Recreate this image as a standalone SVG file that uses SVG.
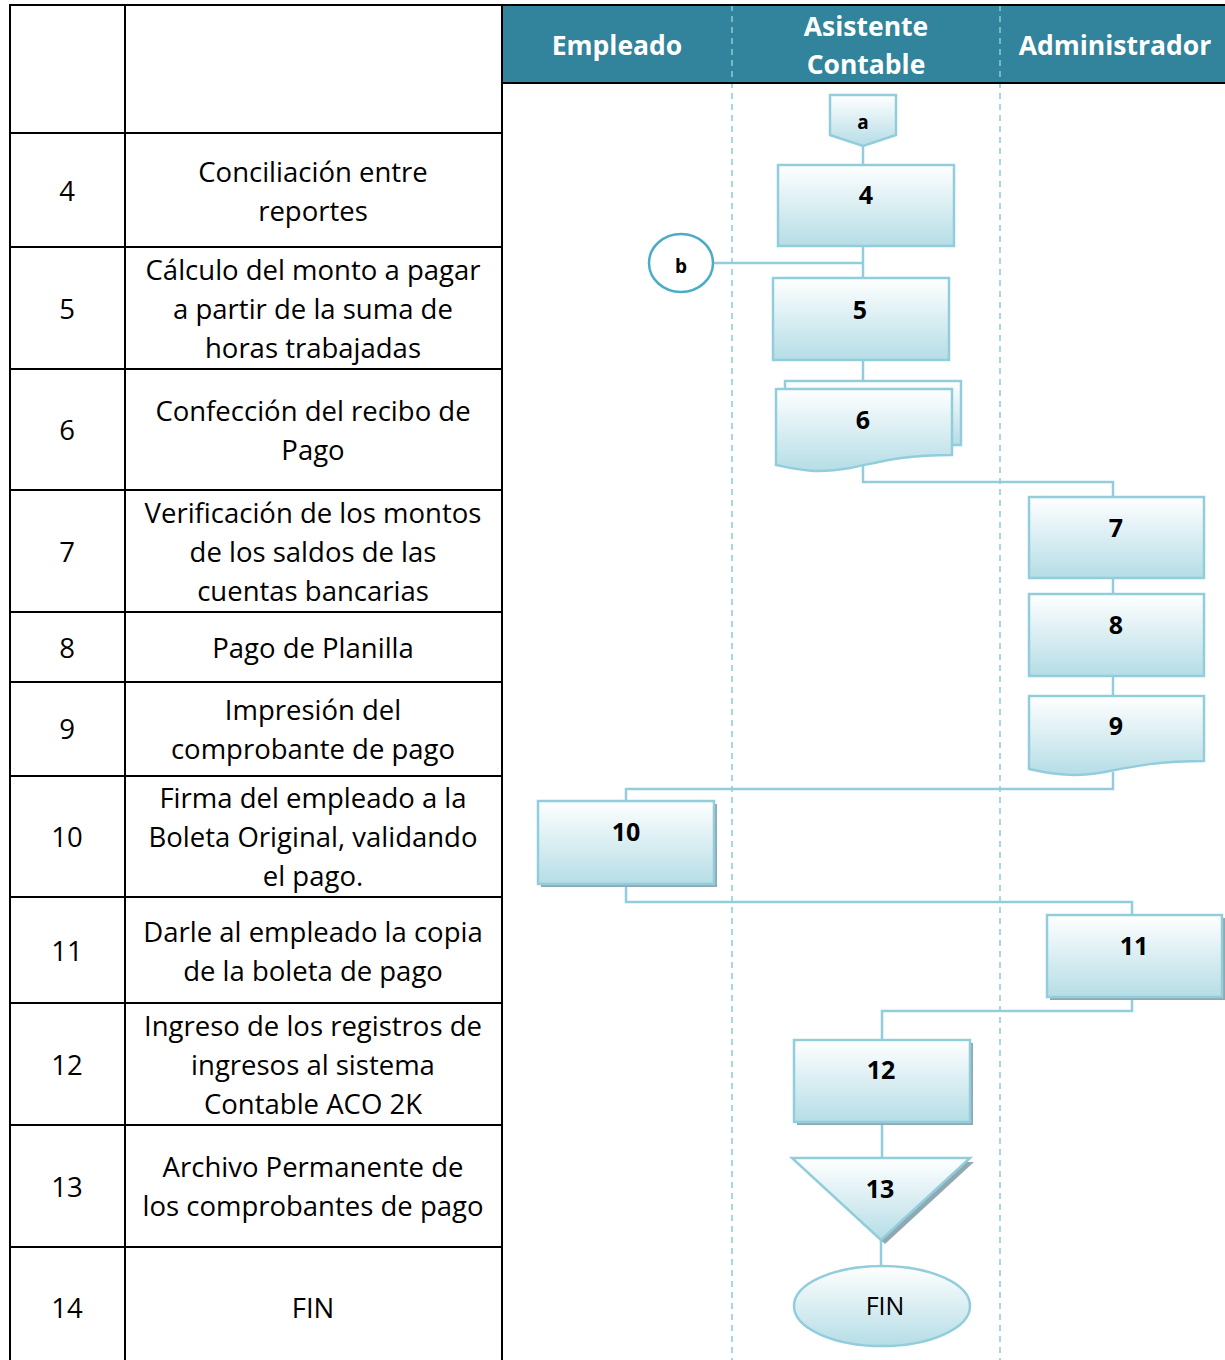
<svg xmlns="http://www.w3.org/2000/svg" width="1225" height="1360" viewBox="0 0 1225 1360">
<defs>
<linearGradient id="g" x1="0" y1="0" x2="0" y2="1">
<stop offset="0" stop-color="#ffffff"/>
<stop offset="1" stop-color="#b5dde6"/>
</linearGradient>
<style>
.cell{font-family:"Open Sans","Liberation Sans",sans-serif;font-size:27.5px;fill:#000;text-anchor:middle;dominant-baseline:central}
.hdr{font-family:"Open Sans","Liberation Sans",sans-serif;font-size:26.5px;font-weight:bold;fill:#fff;text-anchor:middle;dominant-baseline:central}
.lbl{font-family:"Open Sans","Liberation Sans",sans-serif;font-size:25px;font-weight:bold;fill:#000;text-anchor:middle;dominant-baseline:central}
.tl{stroke:#000;stroke-width:2;fill:none}
.lane{stroke:#8ccbd8;stroke-width:1.5;stroke-dasharray:6,5;fill:none}
.shape{fill:url(#g);stroke:#92cddc;stroke-width:2.5}
.shadow{fill:#8fa8b1}
.conn{stroke:#92cddc;stroke-width:2.5;fill:none}
</style>
</defs>
<rect x="0" y="0" width="1225" height="1360" fill="#fff"/>
<!-- header -->
<rect x="502" y="5" width="723" height="78" fill="#31849b"/>
<g id="lanes">
<line class="lane" x1="732" y1="5" x2="732" y2="1360"/>
<line class="lane" x1="1000" y1="5" x2="1000" y2="1360"/>
</g>
<line class="tl" x1="502" y1="83" x2="1225" y2="83"/>
<line class="tl" x1="502" y1="5" x2="1225" y2="5"/>
<text class="hdr" x="617" y="45">Empleado</text>
<text class="hdr" x="866" y="26">Asistente</text>
<text class="hdr" x="866" y="64">Contable</text>
<text class="hdr" x="1115" y="45">Administrador</text>
<!-- table -->
<g id="table">
<rect class="tl" x="10" y="5" width="492" height="1360"/>
<line class="tl" x1="125" y1="5" x2="125" y2="1360"/>
<line class="tl" x1="10" y1="133" x2="502" y2="133"/>
<line class="tl" x1="10" y1="247" x2="502" y2="247"/>
<line class="tl" x1="10" y1="369" x2="502" y2="369"/>
<line class="tl" x1="10" y1="490" x2="502" y2="490"/>
<line class="tl" x1="10" y1="612" x2="502" y2="612"/>
<line class="tl" x1="10" y1="682" x2="502" y2="682"/>
<line class="tl" x1="10" y1="776" x2="502" y2="776"/>
<line class="tl" x1="10" y1="897" x2="502" y2="897"/>
<line class="tl" x1="10" y1="1003" x2="502" y2="1003"/>
<line class="tl" x1="10" y1="1125" x2="502" y2="1125"/>
<line class="tl" x1="10" y1="1247" x2="502" y2="1247"/>
<text class="cell" x="67" y="190">4</text>
<text class="cell" x="313" y="171">Conciliación entre</text>
<text class="cell" x="313" y="210">reportes</text>
<text class="cell" x="67" y="308">5</text>
<text class="cell" x="313" y="269">Cálculo del monto a pagar</text>
<text class="cell" x="313" y="308">a partir de la suma de</text>
<text class="cell" x="313" y="347">horas trabajadas</text>
<text class="cell" x="67" y="429">6</text>
<text class="cell" x="313" y="410">Confección del recibo de</text>
<text class="cell" x="313" y="449">Pago</text>
<text class="cell" x="67" y="551">7</text>
<text class="cell" x="313" y="512">Verificación de los montos</text>
<text class="cell" x="313" y="551">de los saldos de las</text>
<text class="cell" x="313" y="590">cuentas bancarias</text>
<text class="cell" x="67" y="647">8</text>
<text class="cell" x="313" y="647">Pago de Planilla</text>
<text class="cell" x="67" y="728">9</text>
<text class="cell" x="313" y="709">Impresión del</text>
<text class="cell" x="313" y="748">comprobante de pago</text>
<text class="cell" x="67" y="836">10</text>
<text class="cell" x="313" y="797">Firma del empleado a la</text>
<text class="cell" x="313" y="836">Boleta Original, validando</text>
<text class="cell" x="313" y="875">el pago.</text>
<text class="cell" x="67" y="950">11</text>
<text class="cell" x="313" y="931">Darle al empleado la copia</text>
<text class="cell" x="313" y="970">de la boleta de pago</text>
<text class="cell" x="67" y="1064">12</text>
<text class="cell" x="313" y="1025">Ingreso de los registros de</text>
<text class="cell" x="313" y="1064">ingresos al sistema</text>
<text class="cell" x="313" y="1103">Contable ACO 2K</text>
<text class="cell" x="67" y="1186">13</text>
<text class="cell" x="313" y="1166">Archivo Permanente de</text>
<text class="cell" x="313" y="1205">los comprobantes de pago</text>
<text class="cell" x="67" y="1307">14</text>
<text class="cell" x="313" y="1307">FIN</text>
</g>
<!-- connectors -->
<g id="connectors">
<polyline class="conn" points="863,146 863,165"/>
<polyline class="conn" points="863,246 863,278"/>
<polyline class="conn" points="714,263 863,263"/>
<polyline class="conn" points="863,360 863,389"/>
<polyline class="conn" points="863,466 863,482 1113,482 1113,497"/>
<polyline class="conn" points="1113,578 1113,594"/>
<polyline class="conn" points="1113,676 1113,696"/>
<polyline class="conn" points="1113,772 1113,789 626,789 626,801"/>
<polyline class="conn" points="626,884 626,902 1132,902 1132,915"/>
<polyline class="conn" points="1132,997 1132,1011 882,1011 882,1040"/>
<polyline class="conn" points="882,1122 882,1158"/>
<polyline class="conn" points="881,1240 881,1266"/>
</g>
<!-- nodes -->
<g id="node-a">
<path class="shape" d="M830,95 H896 V135 L863,146 L830,135 Z"/>
<text class="lbl" x="863" y="122" style="font-size:19px">a</text>
</g>
<g id="node-4">
<rect class="shape" x="778" y="165" width="176" height="81"/>
<text class="lbl" x="866" y="194">4</text>
</g>
<g id="node-b">
<ellipse cx="681" cy="263" rx="32" ry="29" fill="#fff" stroke="#4bacc6" stroke-width="2.5"/>
<text class="lbl" x="681" y="266" style="font-size:19px">b</text>
</g>
<g id="node-5">
<rect class="shape" x="773" y="278" width="176" height="82"/>
<text class="lbl" x="860" y="309">5</text>
</g>
<g id="node-6">
<rect class="shape" x="785" y="381" width="176" height="64"/>
<path class="shape" d="M776,389 H952 V455 C900,455 880,462 850,468 C815,474 800,470 776,465 Z"/>
<text class="lbl" x="863" y="419">6</text>
</g>
<g id="node-7">
<rect class="shape" x="1029" y="497" width="175" height="81"/>
<text class="lbl" x="1116" y="527">7</text>
</g>
<g id="node-8">
<rect class="shape" x="1029" y="594" width="175" height="82"/>
<text class="lbl" x="1116" y="624">8</text>
</g>
<g id="node-9">
<path class="shape" d="M1029,696 H1204 V761 C1160,761 1135,766 1110,771 C1080,777 1060,776 1029,769 Z"/>
<text class="lbl" x="1116" y="725">9</text>
</g>
<g id="node-10">
<rect class="shadow" x="541" y="804" width="176" height="83"/>
<rect class="shape" x="538" y="801" width="176" height="83"/>
<text class="lbl" x="626" y="831">10</text>
</g>
<g id="node-11">
<rect class="shadow" x="1050" y="918" width="175" height="82"/>
<rect class="shape" x="1047" y="915" width="175" height="82"/>
<text class="lbl" x="1134" y="945">11</text>
</g>
<g id="node-12">
<rect class="shadow" x="797" y="1043" width="176" height="82"/>
<rect class="shape" x="794" y="1040" width="176" height="82"/>
<text class="lbl" x="881" y="1069">12</text>
</g>
<g id="node-13">
<path class="shadow" d="M796,1162 H974 L885,1244 Z"/>
<path class="shape" d="M792,1158 H970 L881,1240 Z"/>
<text class="lbl" x="880" y="1188">13</text>
</g>
<g id="node-fin">
<ellipse class="shape" cx="882" cy="1306" rx="88" ry="40"/>
<text class="cell" x="885" y="1305" style="font-size:25px">FIN</text>
</g>
</svg>
